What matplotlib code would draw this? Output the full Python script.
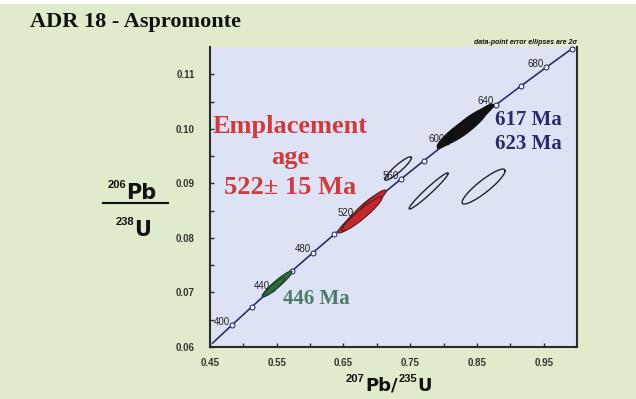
import numpy as np
import matplotlib.pyplot as plt

# concordia points (every 20 Ma)
ages = [380, 400, 420, 440, 460, 480, 500, 520, 540, 560, 580, 600, 620, 640, 660, 680, 700, 720]
pb207_u235 = [0.453891, 0.482812, 0.512308, 0.542390, 0.573073, 0.604365, 0.636279, 0.668828, 0.702026,
              0.735882, 0.770414, 0.805630, 0.841548, 0.878182, 0.915543, 0.953647, 0.992510, 1.032144]
pb206_u238 = [0.060720, 0.064016, 0.067322, 0.070638, 0.073965, 0.077302, 0.080650, 0.084008, 0.087376,
              0.090755, 0.094144, 0.097544, 0.100955, 0.104375, 0.107807, 0.111249, 0.114702, 0.118166]
label_ages = [400, 440, 480, 520, 560, 600, 640, 680]

# error ellipses: x, 2s x, y, 2s y, rho, group
ell_x = [0.5505, 0.5460,
         0.6599, 0.6719, 0.6839, 0.6944, 0.6779,
         0.8173, 0.8338, 0.8488, 0.8330,
         0.7319, 0.7776, 0.8600]
ell_sx = [0.0225, 0.016,
          0.018, 0.024, 0.0255, 0.0195, 0.030,
          0.027, 0.033, 0.0255, 0.042,
          0.0200, 0.0292, 0.0322]
ell_y = [0.07155, 0.0710,
         0.08273, 0.08401, 0.08548, 0.08676, 0.08438,
         0.09923, 0.10051, 0.10198, 0.10040,
         0.09272, 0.08860, 0.08942]
ell_sy = [0.00238, 0.0017,
          0.00183, 0.00257, 0.00275, 0.00202, 0.00312,
          0.00275, 0.0033, 0.00257, 0.00403,
          0.00215, 0.0033, 0.0032]
ell_rho = [0.94, 0.92,
           0.89, 0.89, 0.90, 0.91, 0.94,
           0.91, 0.90, 0.93, 0.975,
           0.92, 0.972, 0.90]
ell_group = ['green', 'green',
             'red', 'red', 'red', 'red', 'red',
             'black', 'black', 'black', 'black',
             'open', 'open', 'open']

x_ticks = [0.45, 0.55, 0.65, 0.75, 0.85, 0.95]
x_ticklabels = ['0.45', '0.55', '0.65', '0.75', '0.85', '0.95']
y_ticks = [0.06, 0.07, 0.08, 0.09, 0.10, 0.11]
y_ticklabels = ['0.06', '0.07', '0.08', '0.09', '0.10', '0.11']

styles = {
    'green': dict(face='#2e6a3e', edge='#1d3b27'),
    'red': dict(face='#c4282c', edge='#4a1a1c'),
    'black': dict(face='#111111', edge='#111111'),
    'open': dict(face='none', edge='#1c2430'),
}

page_bg = '#e0ebcb'
plot_bg = '#dde3f5'
navy = '#2a2f6c'

fig = plt.figure(figsize=(6.36, 3.99), dpi=100)
fig.patch.set_facecolor(page_bg)
fig.patches.append(plt.Rectangle((0, 1 - 4 / 399), 1, 4 / 399, transform=fig.transFigure,
                                 facecolor='white', edgecolor='none'))

ax = fig.add_axes([210 / 636, 1 - 347 / 399, 367 / 636, 300 / 399])
ax.set_facecolor(plot_bg)
ax.set_xlim(0.45, 1.0)
ax.set_ylim(0.06, 0.115)

# concordia
ax.plot(pb207_u235, pb206_u238, color=navy, lw=1.2, zorder=2)
mk = [i for i, a in enumerate(ages) if 400 <= a <= 700]
ax.plot([pb207_u235[i] for i in mk], [pb206_u238[i] for i in mk], 'o', ms=3.5,
        mfc='white', mec=navy, mew=0.8, zorder=2.5, clip_on=False)
for a in label_ages:
    i = ages.index(a)
    ax.annotate(str(a), (pb207_u235[i], pb206_u238[i]), xytext=(-1.5, 2.5),
                textcoords='offset points', ha='right', va='center',
                fontsize=7, family='Liberation Sans', color='#222222', zorder=4)

# ellipses
t = np.linspace(0, 2 * np.pi, 120)
for x, sx, y, sy, r, g in zip(ell_x, ell_sx, ell_y, ell_sy, ell_rho, ell_group):
    ex = x + sx * np.cos(t)
    ey = y + sy * (r * np.cos(t) + np.sqrt(1 - r ** 2) * np.sin(t))
    st = styles[g]
    if st['face'] != 'none':
        ax.fill(ex, ey, facecolor=st['face'], edgecolor=st['edge'], lw=0.7, zorder=3)
    else:
        ax.plot(ex, ey, color=st['edge'], lw=1.0, zorder=3)

# axes styling
for s in ['left', 'bottom', 'right']:
    ax.spines[s].set_color('#2a2a2a')
    ax.spines[s].set_linewidth(1.5)
ax.spines['top'].set_visible(False)
ax.set_xticks(x_ticks)
ax.set_xticklabels(x_ticklabels)
ax.set_yticks(y_ticks)
ax.set_yticklabels(y_ticklabels)
ax.set_xticks([0.50, 0.60, 0.70, 0.80, 0.90], minor=True)
ax.set_yticks([0.065, 0.075, 0.085, 0.095, 0.105], minor=True)
ax.tick_params(which='both', direction='in', length=3, width=1, color='#2a2a2a')
ax.tick_params(axis='x', pad=8)
ax.tick_params(axis='y', pad=11)
for lab in ax.get_xticklabels() + ax.get_yticklabels():
    lab.set_fontsize(7)
    lab.set_family('Liberation Sans')
    lab.set_fontweight('bold')
    lab.set_color('#333333')

# annotations in the plot
ax.text(0.218, 0.633, 'Emplacement\nage\n522\u00b1 15 Ma', transform=ax.transAxes,
        ha='center', va='center', fontsize=19, family='Liberation Serif',
        fontweight='bold', color='#cf3a3e', linespacing=1.42)
ax.text(0.777, 0.717, '617 Ma\n623 Ma', transform=ax.transAxes, ha='left', va='center',
        fontsize=15, family='Liberation Serif', fontweight='bold', color='#2b2a6a',
        linespacing=1.3)
ax.text(0.199, 0.16, '446 Ma', transform=ax.transAxes, ha='left', va='center',
        fontsize=15, family='Liberation Serif', fontweight='bold', color='#4d7c66')
ax.text(1.0, 1.005, 'data-point error ellipses are 2\u03c3', transform=ax.transAxes,
        ha='right', va='bottom', fontsize=5, family='Liberation Sans',
        fontweight='bold', style='italic', color='#111111')

# title
fig.text(30 / 636, 1 - 22 / 399, 'ADR 18 - Aspromonte', ha='left', va='center',
         fontsize=16, family='Liberation Serif', fontweight='bold', color='#111111')


def px(x, y):
    return x / 636, 1 - y / 399


sup = dict(family='Liberation Sans', fontweight='bold', color='#111111', fontsize=8)
big = dict(family='DejaVu Sans', fontweight='bold', color='#111111')

# y label as a fraction
fig.text(*px(126, 185), '206', ha='right', va='center', **sup)
fig.text(*px(126, 193), 'Pb', ha='left', va='center', fontsize=15, **big)
fig.text(*px(134, 222), '238', ha='right', va='center', **sup)
fig.text(*px(134, 230), 'U', ha='left', va='center', fontsize=15, **big)
fig.add_artist(plt.Line2D([103 / 636, 168 / 636], [1 - 203 / 399, 1 - 203 / 399],
                          color='#111111', lw=1.5))

# x label, pieces laid out left to right
renderer = fig.canvas.get_renderer()
x0 = 346
pieces = [('207', 379, sup), ('Pb/', 386, dict(big, fontsize=13)),
          ('235', 379, sup), ('U', 386, dict(big, fontsize=13))]
for s, yy, kw in pieces:
    tx = fig.text(*px(x0, yy), s, ha='left', va='center', **kw)
    x0 += tx.get_window_extent(renderer).width + 0.5

fig.savefig('out.png', dpi=100, facecolor=fig.get_facecolor())
